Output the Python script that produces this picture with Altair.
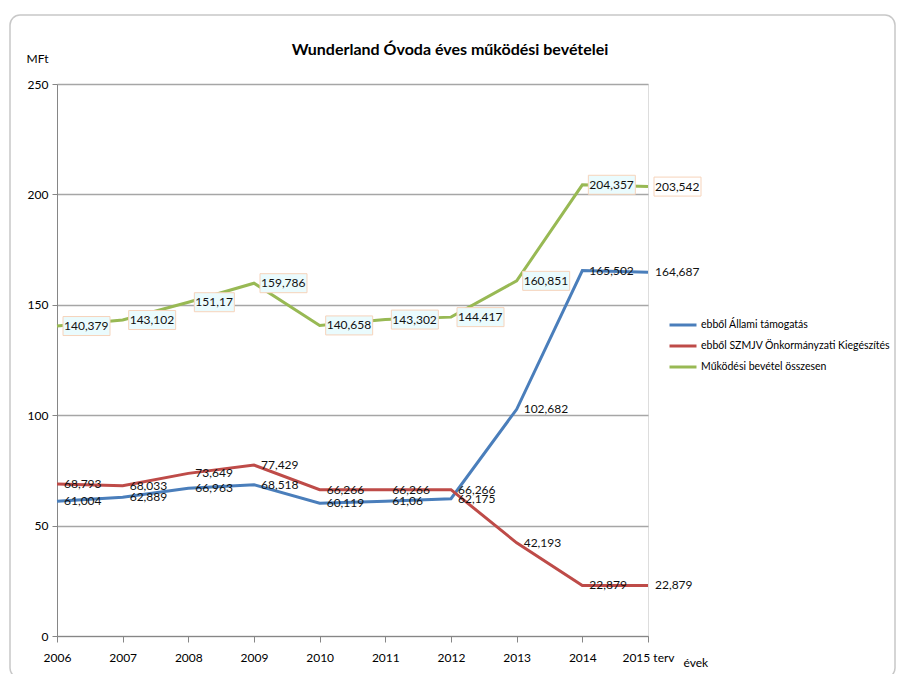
import altair as alt
import pandas as pd

years = ["2006", "2007", "2008", "2009", "2010", "2011", "2012", "2013", "2014", "2015 terv"]
series_names = [
    "ebből Állami támogatás",
    "ebből SZMJV Önkormányzati Kiegészítés",
    "Működési bevétel összesen",
]
allami = [61.004, 62.889, 66.963, 68.518, 60.119, 61.06, 62.175, 102.682, 165.502, 164.687]
allami_lbl = ["61,004", "62,889", "66,963", "68,518", "60,119", "61,06", "62,175", "102,682", "165,502", "164,687"]
szmjv = [68.793, 68.033, 73.649, 77.429, 66.266, 66.266, 66.266, 42.193, 22.879, 22.879]
szmjv_lbl = ["68,793", "68,033", "73,649", "77,429", "66,266", "66,266", "66,266", "42,193", "22,879", "22,879"]
osszes = [140.379, 143.102, 151.17, 159.786, 140.658, 143.302, 144.417, 160.851, 204.357, 203.542]
osszes_lbl = ["140,379", "143,102", "151,17", "159,786", "140,658", "143,302", "144,417", "160,851", "204,357", "203,542"]
colors = ["#4A7EBB", "#BE4B48", "#98B954"]
title_text = "Wunderland Óvoda éves működési bevételei"

rows = []
for s, vals, lbls in zip(series_names, [allami, szmjv, osszes], [allami_lbl, szmjv_lbl, osszes_lbl]):
    for y, v, l in zip(years, vals, lbls):
        rows.append({"year": y, "series": s, "value": v, "label": l})
df = pd.DataFrame(rows)

FONT = "Lato"
BG = "#EAFBFD"

x = alt.X("year:N", scale=alt.Scale(domain=years, type="point", padding=0),
          axis=alt.Axis(title="évek", titleAngle=0, titleX=626, titleY=26, titleAlign="left",
                        titleBaseline="middle", titleFontWeight="normal", titleFontSize=12,
                        titleFont=FONT, titleColor="#000",
                        labelAngle=0, labelFont=FONT, labelFontSize=12, labelColor="#000",
                        labelPadding=10, tickSize=6, tickColor="#868686", domainColor="#868686",
                        grid=False, labelFlush=False))
y = alt.Y("value:Q", scale=alt.Scale(domain=[0, 250], nice=False),
          axis=alt.Axis(title="MFt", titleAngle=0, titleX=-31, titleY=-26, titleAlign="left",
                        titleBaseline="middle", titleFontWeight="normal", titleFontSize=12,
                        titleFont=FONT, titleColor="#000",
                        values=[0, 50, 100, 150, 200, 250], labelFont=FONT, labelFontSize=12,
                        labelColor="#000", labelPadding=4, tickSize=5, tickColor="#868686",
                        domainColor="#868686", gridColor="#A6A6A6", gridWidth=1.3))

one = pd.DataFrame({"a": [0]})
frame = alt.Chart(one).mark_rect(
    fill=None, stroke="#C8C8C8", strokeWidth=1.5, cornerRadius=10
).encode(x=alt.value(-47), x2=alt.value(838), y=alt.value(-69), y2=alt.value(594))

title = alt.Chart(one).mark_text(
    font=FONT, fontSize=16, fontWeight="bold", color="#000", align="center", baseline="middle"
).encode(x=alt.value(393), y=alt.value(-34), text=alt.value(title_text))

lines = alt.Chart(df).mark_line(strokeWidth=3).encode(
    x=x, y=y,
    color=alt.Color("series:N", scale=alt.Scale(domain=series_names, range=colors),
                    legend=alt.Legend(title=None, orient="none", legendX=611, legendY=226,
                                      symbolType="stroke", symbolSize=729, symbolStrokeWidth=3,
                                      rowPadding=0, labelFont=FONT, labelFontSize=10.5,
                                      labelColor="#000", labelOffset=3, labelLimit=400)),
)

green = df[df["series"] == series_names[2]]
box_long = alt.Chart(green).transform_filter("length(datum.label) == 7").mark_rect(
    width=47, height=19, xOffset=29.5, stroke="#F6D3BB", strokeWidth=1
).encode(x=x, y=y, fill=alt.condition("datum.year == '2015 terv'", alt.value("white"), alt.value(BG)))
box_short = alt.Chart(green).transform_filter("length(datum.label) != 7").mark_rect(
    width=40, height=19, xOffset=26, stroke="#F6D3BB", strokeWidth=1, fill=BG
).encode(x=x, y=y)

texts = alt.Chart(df).mark_text(align="left", baseline="middle", dx=7, font=FONT,
                                fontSize=12, color="#111").encode(x=x, y=y, text="label:N")

chart = alt.layer(frame, title, lines, box_long, box_short, texts).properties(
    width=591, height=552,
    autosize=alt.AutoSizeParams(type="none"),
    padding={"left": 49, "top": 76, "right": 249, "bottom": 38},
).configure_view(fill=BG, stroke=None).configure(background="white")

chart.save("out.html", embed_options={"renderer": "svg", "actions": False})
